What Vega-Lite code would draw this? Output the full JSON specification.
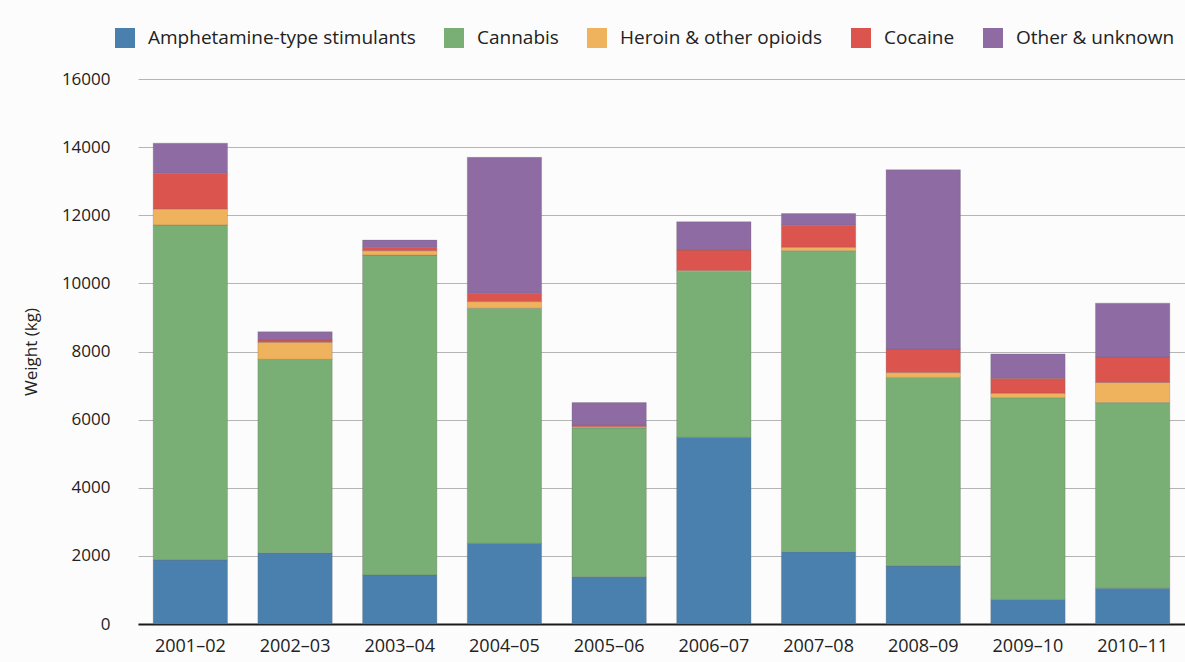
{
  "$schema": "https://vega.github.io/schema/vega-lite/v6.json",
  "width": 1047,
  "height": 545,
  "autosize": {"type": "none"},
  "padding": {"left": 138, "top": 79, "right": 0, "bottom": 38},
  "background": "#fcfcfc",
  "config": {
    "view": {"stroke": null},
    "font": "Open Sans"
  },
  "data": {
    "values": [
      {"period": "2001–02", "drug": "Amphetamine-type stimulants", "rank": 1, "kg": 1880},
      {"period": "2001–02", "drug": "Cannabis", "rank": 2, "kg": 9835},
      {"period": "2001–02", "drug": "Heroin & other opioids", "rank": 3, "kg": 470},
      {"period": "2001–02", "drug": "Cocaine", "rank": 4, "kg": 1050},
      {"period": "2001–02", "drug": "Other & unknown", "rank": 5, "kg": 880},
      {"period": "2002–03", "drug": "Amphetamine-type stimulants", "rank": 1, "kg": 2090},
      {"period": "2002–03", "drug": "Cannabis", "rank": 2, "kg": 5680},
      {"period": "2002–03", "drug": "Heroin & other opioids", "rank": 3, "kg": 500},
      {"period": "2002–03", "drug": "Cocaine", "rank": 4, "kg": 70},
      {"period": "2002–03", "drug": "Other & unknown", "rank": 5, "kg": 240},
      {"period": "2003–04", "drug": "Amphetamine-type stimulants", "rank": 1, "kg": 1440},
      {"period": "2003–04", "drug": "Cannabis", "rank": 2, "kg": 9390},
      {"period": "2003–04", "drug": "Heroin & other opioids", "rank": 3, "kg": 130},
      {"period": "2003–04", "drug": "Cocaine", "rank": 4, "kg": 100},
      {"period": "2003–04", "drug": "Other & unknown", "rank": 5, "kg": 210},
      {"period": "2004–05", "drug": "Amphetamine-type stimulants", "rank": 1, "kg": 2370},
      {"period": "2004–05", "drug": "Cannabis", "rank": 2, "kg": 6900},
      {"period": "2004–05", "drug": "Heroin & other opioids", "rank": 3, "kg": 195},
      {"period": "2004–05", "drug": "Cocaine", "rank": 4, "kg": 245},
      {"period": "2004–05", "drug": "Other & unknown", "rank": 5, "kg": 3990},
      {"period": "2005–06", "drug": "Amphetamine-type stimulants", "rank": 1, "kg": 1390},
      {"period": "2005–06", "drug": "Cannabis", "rank": 2, "kg": 4370},
      {"period": "2005–06", "drug": "Heroin & other opioids", "rank": 3, "kg": 30},
      {"period": "2005–06", "drug": "Cocaine", "rank": 4, "kg": 50},
      {"period": "2005–06", "drug": "Other & unknown", "rank": 5, "kg": 660},
      {"period": "2006–07", "drug": "Amphetamine-type stimulants", "rank": 1, "kg": 5480},
      {"period": "2006–07", "drug": "Cannabis", "rank": 2, "kg": 4870},
      {"period": "2006–07", "drug": "Heroin & other opioids", "rank": 3, "kg": 30},
      {"period": "2006–07", "drug": "Cocaine", "rank": 4, "kg": 600},
      {"period": "2006–07", "drug": "Other & unknown", "rank": 5, "kg": 830},
      {"period": "2007–08", "drug": "Amphetamine-type stimulants", "rank": 1, "kg": 2120},
      {"period": "2007–08", "drug": "Cannabis", "rank": 2, "kg": 8840},
      {"period": "2007–08", "drug": "Heroin & other opioids", "rank": 3, "kg": 100},
      {"period": "2007–08", "drug": "Cocaine", "rank": 4, "kg": 650},
      {"period": "2007–08", "drug": "Other & unknown", "rank": 5, "kg": 340},
      {"period": "2008–09", "drug": "Amphetamine-type stimulants", "rank": 1, "kg": 1700},
      {"period": "2008–09", "drug": "Cannabis", "rank": 2, "kg": 5540},
      {"period": "2008–09", "drug": "Heroin & other opioids", "rank": 3, "kg": 140},
      {"period": "2008–09", "drug": "Cocaine", "rank": 4, "kg": 690},
      {"period": "2008–09", "drug": "Other & unknown", "rank": 5, "kg": 5265},
      {"period": "2009–10", "drug": "Amphetamine-type stimulants", "rank": 1, "kg": 720},
      {"period": "2009–10", "drug": "Cannabis", "rank": 2, "kg": 5925},
      {"period": "2009–10", "drug": "Heroin & other opioids", "rank": 3, "kg": 130},
      {"period": "2009–10", "drug": "Cocaine", "rank": 4, "kg": 440},
      {"period": "2009–10", "drug": "Other & unknown", "rank": 5, "kg": 715},
      {"period": "2010–11", "drug": "Amphetamine-type stimulants", "rank": 1, "kg": 1050},
      {"period": "2010–11", "drug": "Cannabis", "rank": 2, "kg": 5450},
      {"period": "2010–11", "drug": "Heroin & other opioids", "rank": 3, "kg": 590},
      {"period": "2010–11", "drug": "Cocaine", "rank": 4, "kg": 745},
      {"period": "2010–11", "drug": "Other & unknown", "rank": 5, "kg": 1585}
    ]
  },
  "mark": {"type": "bar", "stroke": "#6a6a6a", "strokeWidth": 0.8, "strokeOpacity": 0.35},
  "encoding": {
    "x": {
      "field": "period",
      "type": "nominal",
      "sort": null,
      "scale": {"paddingInner": 0.29, "paddingOuter": 0.145},
      "axis": {
        "title": null,
        "labelAngle": 0,
        "labelFontSize": 18,
        "labelColor": "#222222",
        "labelPadding": 13,
        "ticks": false,
        "domainColor": "#1a1a1a",
        "domainWidth": 2
      }
    },
    "y": {
      "field": "kg",
      "type": "quantitative",
      "stack": "zero",
      "scale": {"domain": [0, 16000], "nice": false},
      "axis": {
        "title": "Weight (kg)",
        "titleFontSize": 17,
        "titleFontWeight": "normal",
        "titleColor": "#222222",
        "titlePadding": 21,
        "values": [0, 2000, 4000, 6000, 8000, 10000, 12000, 14000, 16000],
        "format": "d",
        "labelFontSize": 17,
        "labelColor": "#222222",
        "labelPadding": 28,
        "ticks": false,
        "domain": false,
        "gridColor": "#b5b5b5",
        "gridWidth": 1.2
      }
    },
    "color": {
      "field": "drug",
      "type": "nominal",
      "scale": {
        "domain": ["Amphetamine-type stimulants", "Cannabis", "Heroin & other opioids", "Cocaine", "Other & unknown"],
        "range": ["#4a80ae", "#79ae74", "#f0b35d", "#db544e", "#8e6ba3"]
      },
      "legend": {
        "title": null,
        "orient": "none",
        "legendX": -23,
        "legendY": -51,
        "direction": "horizontal",
        "columns": 5,
        "columnPadding": 28,
        "symbolType": "square",
        "symbolSize": 400,
        "symbolStrokeWidth": 0,
        "symbolOpacity": 1,
        "labelFontSize": 19,
        "labelColor": "#222222",
        "labelOffset": 13,
        "labelLimit": 400
      }
    },
    "order": {"field": "rank", "type": "quantitative", "sort": "ascending"}
  }
}
